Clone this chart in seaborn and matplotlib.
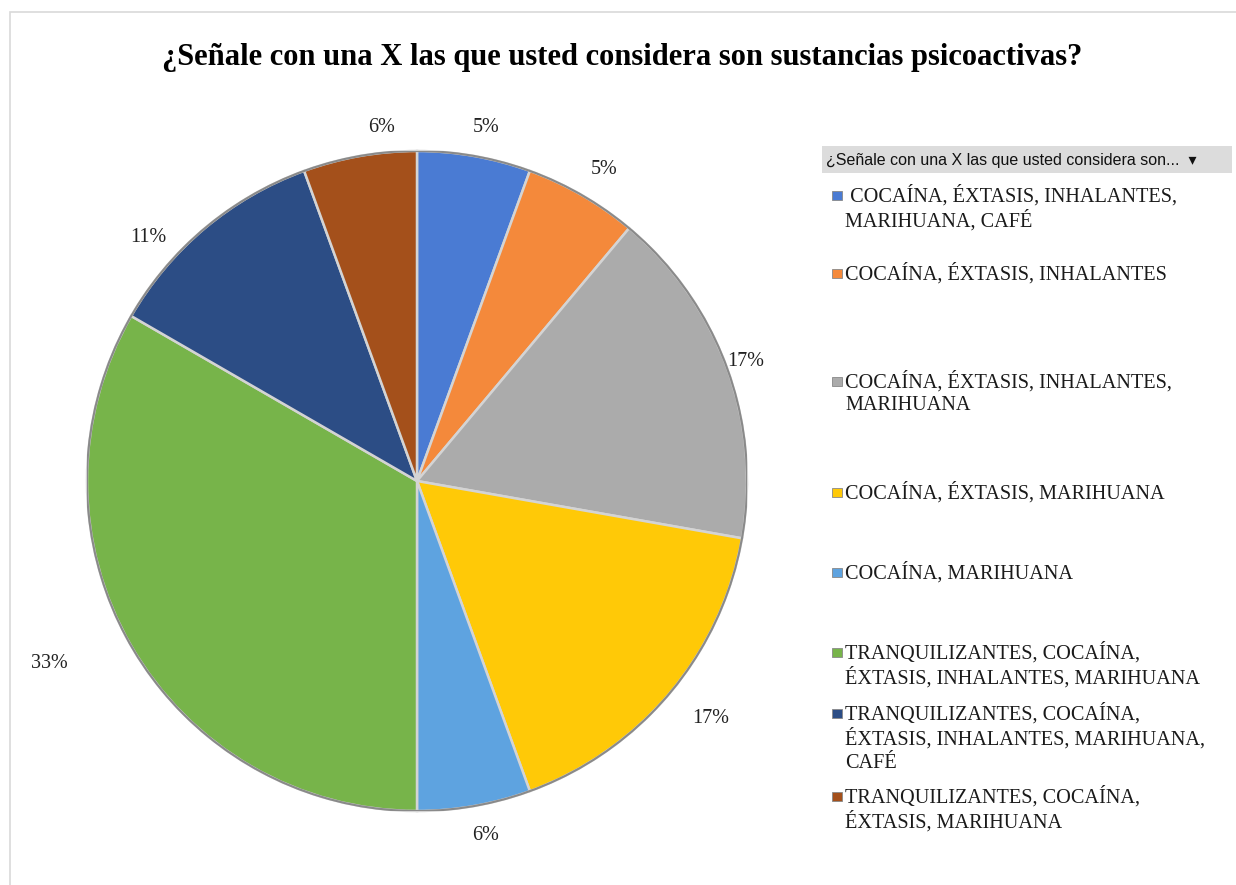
#!/usr/bin/env python3
# coding: utf-8
import numpy as np
import seaborn as sns
import matplotlib.pyplot as plt
from matplotlib.patches import Rectangle

# ------------------------------------------------
# Data
# ------------------------------------------------
title = "¿Señale con una X las que usted considera son sustancias psicoactivas?"
legend_header = "¿Señale con una X las que usted considera son...  \u25BE"
categories = [
    " COCAÍNA, ÉXTASIS, INHALANTES,\nMARIHUANA, CAFÉ",
    "COCAÍNA, ÉXTASIS, INHALANTES",
    "COCAÍNA, ÉXTASIS, INHALANTES,\nMARIHUANA",
    "COCAÍNA, ÉXTASIS, MARIHUANA",
    "COCAÍNA, MARIHUANA",
    "TRANQUILIZANTES, COCAÍNA,\nÉXTASIS, INHALANTES, MARIHUANA",
    "TRANQUILIZANTES, COCAÍNA,\nÉXTASIS, INHALANTES, MARIHUANA,\nCAFÉ",
    "TRANQUILIZANTES, COCAÍNA,\nÉXTASIS, MARIHUANA",
]
counts = [1, 1, 3, 3, 1, 6, 2, 1]
pct_labels = ["5%", "5%", "17%", "17%", "6%", "33%", "11%", "6%"]
colors = ["#4a7bd3", "#f4893b", "#ababab", "#ffc907", "#5ea3e0",
          "#77b44a", "#2c4d85", "#a4501b"]

# ------------------------------------------------
# Plot
# ------------------------------------------------
sns.set_style("white")
plt.rcParams['font.family'] = ['Liberation Serif', 'DejaVu Serif']

fig = plt.figure(figsize=(12.36, 8.85), dpi=100)

# chart area border
fig.patches.append(Rectangle((10 / 1236, -0.02), 1.05, (885 - 12) / 885 + 0.02,
                             transform=fig.transFigure, fill=False,
                             edgecolor="#d9d9d9", linewidth=1.2))

fig.text(622 / 1236, 1 - 57 / 885, title, ha="center", va="center",
         fontsize=22, fontweight="bold", color="#000000")

ax = fig.add_axes([87 / 1236, (404 - 330) / 885, 660 / 1236, 660 / 885])
wedges, _ = ax.pie(counts, colors=colors, startangle=90, counterclock=False,
                   radius=1.0,
                   wedgeprops=dict(edgecolor="#d4d4d4", linewidth=1.8))
# outer rim
ax.add_patch(plt.Circle((0, 0), 1.0, fill=False, edgecolor="#8a8a8a", linewidth=1.5))

# label placement: (distance from centre, angle shift in degrees)
label_dist = [1.09, 1.10, 1.06, 1.145, 1.095, 1.245, 1.10, 1.076]
label_shift = [-1.0, -1.0, 0.0, 1.0, 1.0, -3.6, 7.8, -4.3]
for w, lab, d, s in zip(wedges, pct_labels, label_dist, label_shift):
    ang = np.deg2rad((w.theta1 + w.theta2) / 2 + s)
    ax.text(d * np.cos(ang), d * np.sin(ang), lab, ha="center", va="center",
            fontsize=14.5, color="#222222")
ax.set_xlim(-1, 1)
ax.set_ylim(-1, 1)
ax.set_aspect("equal")
ax.axis("off")

# legend header
fig.patches.append(Rectangle((822 / 1236, 1 - 173 / 885), 410 / 1236, 27 / 885,
                             transform=fig.transFigure, facecolor="#dcdcdc",
                             edgecolor="none"))
fig.text(826 / 1236, 1 - 160 / 885, legend_header, ha="left", va="center",
         fontsize=11.5, family=["Liberation Sans", "DejaVu Sans"], color="#111111")

# legend entries (centre of first line in pixels)
entry_y = [196, 274, 382, 493, 573, 653, 714, 797]
for lab, col, y in zip(categories, colors, entry_y):
    fig.patches.append(Rectangle((832 / 1236, 1 - (y + 4) / 885), 10 / 1236, 9 / 885,
                                 transform=fig.transFigure, facecolor=col,
                                 edgecolor="#888888", linewidth=0.6))
    fig.text(845 / 1236, 1 - (y - 11) / 885, lab, ha="left", va="top",
             fontsize=14.6, color="#1a1a1a", linespacing=1.25)

plt.savefig("out.png", dpi=100, facecolor="white")
plt.close(fig)
